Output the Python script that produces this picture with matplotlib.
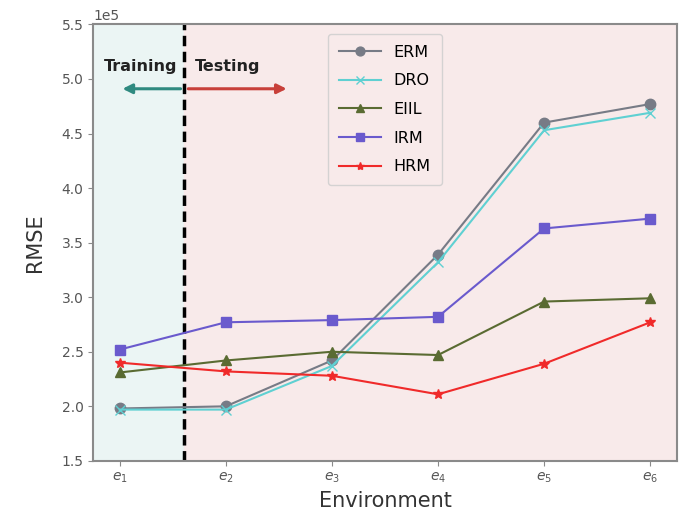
import matplotlib
matplotlib.use('Agg')
import matplotlib.pyplot as plt

# Datos (RMSE por entorno)
envs = [1, 2, 3, 4, 5, 6]
env_labels = ['$e_1$', '$e_2$', '$e_3$', '$e_4$', '$e_5$', '$e_6$']
erm = [1.98e5, 2.00e5, 2.42e5, 3.39e5, 4.60e5, 4.77e5]
dro = [1.97e5, 1.97e5, 2.37e5, 3.32e5, 4.53e5, 4.69e5]
eiil = [2.31e5, 2.42e5, 2.50e5, 2.47e5, 2.96e5, 2.99e5]
irm = [2.52e5, 2.77e5, 2.79e5, 2.82e5, 3.63e5, 3.72e5]
hrm = [2.40e5, 2.32e5, 2.28e5, 2.11e5, 2.39e5, 2.77e5]

fig = plt.figure(figsize=(6.85, 5.19), dpi=100)
ax = fig.add_axes([0.136, 0.112, 0.852, 0.841])

split = 1.61
ax.axvspan(0.75, split, color='#ebf5f4', zorder=0)
ax.axvspan(split, 6.25, color='#f8eaea', zorder=0)
ax.axvline(split, color='black', linestyle=(0, (3, 1.6)), linewidth=2.5, zorder=1)

ax.plot(envs, erm, color='#777b86', marker='o', markersize=7.5, linewidth=1.5, label='ERM')
ax.plot(envs, dro, color='#5fd0d2', marker='x', markersize=7, linewidth=1.5, label='DRO')
ax.plot(envs, eiil, color='#5a6b32', marker='^', markersize=7.5, linewidth=1.5, label='EIIL')
ax.plot(envs, irm, color='#6a5acd', marker='s', markersize=7.5, linewidth=1.5, label='IRM')
ax.plot(envs, hrm, color='#f02a2a', marker='*', markersize=7, linewidth=1.5, label='HRM')

# Flechas y etiquetas de entrenamiento / prueba
ax.annotate('', xy=(1.0, 4.91e5), xytext=(split - 0.01, 4.91e5),
            arrowprops=dict(arrowstyle='-|>', color='#2f8a80', lw=2.2, mutation_scale=14))
ax.annotate('', xy=(2.6, 4.91e5), xytext=(split + 0.01, 4.91e5),
            arrowprops=dict(arrowstyle='-|>', color='#c8403a', lw=2.2, mutation_scale=14))
ax.text(1.2, 5.11e5, 'Training', fontsize=11.5, fontweight='bold', color='#222222',
        ha='center', va='center')
ax.text(2.02, 5.11e5, 'Testing', fontsize=11.5, fontweight='bold', color='#222222',
        ha='center', va='center')

ax.set_xlim(0.75, 6.25)
ax.set_ylim(1.5e5, 5.5e5)
ax.set_xticks(envs)
ax.set_xticklabels(env_labels)
ax.set_yticks([1.5e5, 2.0e5, 2.5e5, 3.0e5, 3.5e5, 4.0e5, 4.5e5, 5.0e5, 5.5e5])
ax.ticklabel_format(style='sci', axis='y', scilimits=(0, 0))

for s in ax.spines.values():
    s.set_color('#8a8a8a')
    s.set_linewidth(1.5)
ax.tick_params(colors='#8a8a8a', labelcolor='#555555', labelsize=10)
ax.yaxis.get_offset_text().set_color('#555555')
ax.yaxis.get_offset_text().set_fontsize(10)

ax.set_xlabel('Environment', fontsize=15, color='#333333')
ax.set_ylabel('RMSE', fontsize=15, color='#333333', labelpad=12)

leg = ax.legend(loc='upper center', fontsize=11.5, frameon=True, labelspacing=0.85,
                handlelength=2.6, borderpad=0.7, markerscale=0.85,
                bbox_to_anchor=(0.5, 0.997))
leg.get_frame().set_facecolor('#f8eaea')

fig.savefig('out.png', dpi=100)
